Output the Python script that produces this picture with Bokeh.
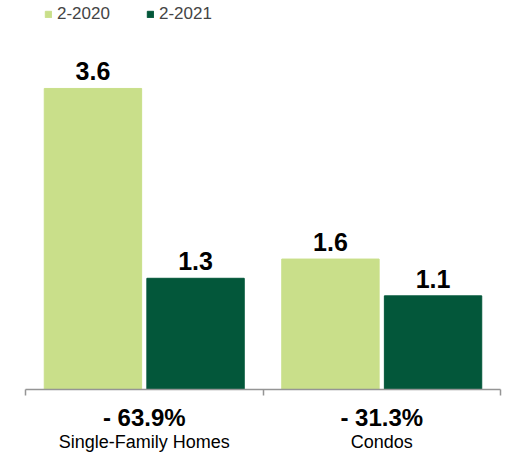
from bokeh.plotting import figure
from bokeh.models import ColumnDataSource, Range1d, LinearAxis, FixedTicker, Legend, LegendItem
from bokeh.core.properties import value
from bokeh.embed import file_html
from bokeh.resources import INLINE

# ---- data ----
categories = ["Single-Family Homes", "Condos"]
series_names = ["2-2020", "2-2021"]
values_2020 = [3.6, 1.56]
values_2021 = [1.33, 1.12]
pct_change = ["- 63.9%", "- 31.3%"]

LIGHT = "#C9DF8A"
DARK = "#03573A"
AXIS = "#959595"
FONT = "Liberation Sans"

centers = [i + 0.5 for i in range(len(categories))]
off = 0.216
w = 0.41

p = figure(width=505, height=455, output_backend="svg", toolbar_location=None,
           x_range=Range1d(0, len(categories)), y_range=Range1d(0, 4.652),
           min_border_left=25, min_border_right=5, min_border_top=0, min_border_bottom=66,
           x_axis_location=None, y_axis_location=None)
p.grid.visible = False
p.outline_line_color = None

src1 = ColumnDataSource(dict(x=[c - off for c in centers], top=values_2020,
                             label=[f"{v:.1f}" for v in values_2020]))
src2 = ColumnDataSource(dict(x=[c + off for c in centers], top=values_2021,
                             label=[f"{v:.1f}" for v in values_2021]))

r1 = p.vbar(x="x", top="top", bottom=0, width=w, color=LIGHT, source=src1)
r2 = p.vbar(x="x", top="top", bottom=0, width=w, color=DARK, source=src2)

for src in (src1, src2):
    p.text(x="x", y="top", text="label", source=src, text_align="center",
           text_baseline="alphabetic", y_offset=-17, text_font=value(FONT),
           text_font_style="bold", text_font_size="25px", text_color="black")

legend = Legend(items=[LegendItem(label=series_names[0], renderers=[r1]),
                       LegendItem(label=series_names[1], renderers=[r2])],
                orientation="horizontal", location=(19, 365),
                glyph_width=8, glyph_height=8, label_standoff=5, spacing=36,
                padding=0, margin=0, border_line_color=None, background_fill_alpha=0,
                label_text_font=FONT, label_text_font_size="17px", label_height=20)
p.add_layout(legend)

ax1 = LinearAxis(ticker=FixedTicker(ticks=centers, minor_ticks=[0, 1, 2]),
                 major_label_overrides={c: t for c, t in zip(centers, pct_change)})
ax1.axis_line_color = AXIS
ax1.axis_line_width = 1.5
ax1.major_tick_line_color = None
ax1.major_tick_out = 0
ax1.major_tick_in = 0
ax1.minor_tick_line_color = AXIS
ax1.minor_tick_line_width = 1.5
ax1.minor_tick_out = 6
ax1.minor_tick_in = 0
ax1.major_label_standoff = 8
ax1.major_label_text_font = FONT
ax1.major_label_text_font_style = "bold"
ax1.major_label_text_font_size = "24px"
ax1.major_label_text_color = "black"

ax2 = LinearAxis(ticker=FixedTicker(ticks=centers, minor_ticks=[]),
                 major_label_overrides={c: t for c, t in zip(centers, categories)})
ax2.axis_line_color = None
ax2.major_tick_line_color = None
ax2.minor_tick_line_color = None
ax2.major_tick_out = 0
ax2.major_tick_in = 0
ax2.major_label_standoff = -2
ax2.major_label_text_font = FONT
ax2.major_label_text_font_size = "18px"
ax2.major_label_text_color = "black"

p.add_layout(ax1, "below")
p.add_layout(ax2, "below")

open("out.html", "w").write(file_html(p, INLINE))
